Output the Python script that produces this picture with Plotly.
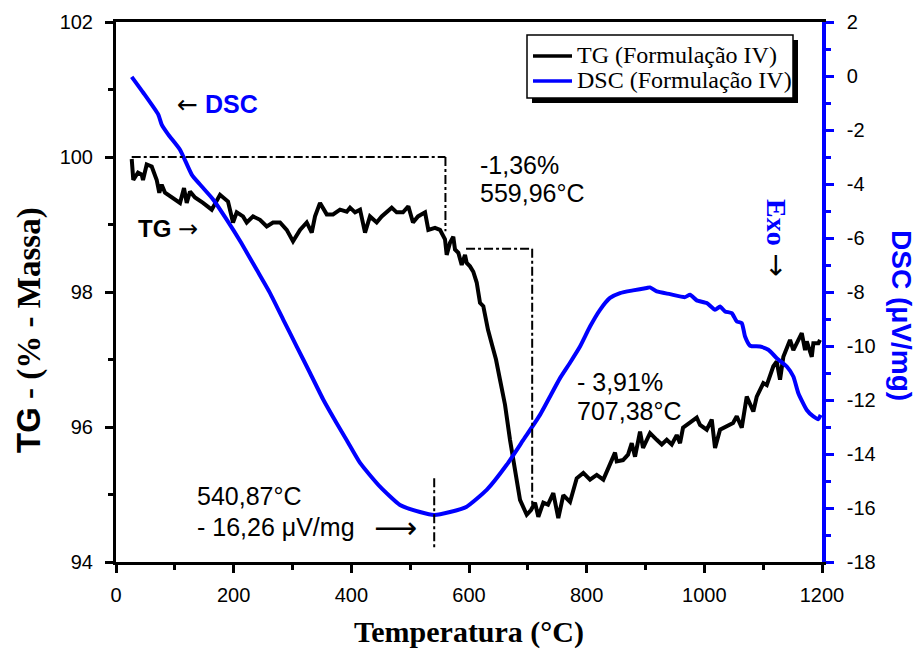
import plotly.graph_objects as go

# ---------------- data ----------------
temp_tg = [26.7, 29.4, 37.4, 43.7, 45.9, 52.2, 60.7, 69.2, 73.6, 77.7, 83.3, 91.8, 103.2, 108.8,
           115.6, 120.2, 125.8, 134.3, 147.9, 162.7, 176.8, 185.3, 190.4, 198.9, 205.2, 215.9,
           222.2, 232.9, 244.8, 256.2, 266.9, 278.8, 290.2, 300.9, 312.8, 324.2, 332.7, 338.3,
           346.8, 358.2, 368.9, 380.8, 392.2, 397.8, 406.3, 414.8, 423.3, 431.7, 443.1, 451.6,
           460.1, 468.6, 477.1, 487.8, 496.9, 504.8, 513.3, 525.3, 530.9, 542.2, 550.7, 559.2,
           562.1, 567.7, 573.3, 576.2, 581.9, 587.6, 593.2, 596.1, 601.7, 607.3, 613.1, 618.7,
           624.3, 632.3, 639.1, 645.9, 652.7, 661.2, 669.7, 675.3, 686.7, 698.1, 705.4, 712.2,
           717.8, 726.3, 734.3, 743.3, 751.8, 760.3, 771.7, 783.1, 794.3, 805.7, 817.1, 828.3,
           839.7, 848.2, 851.1, 861.8, 870.3, 876.6, 882.2, 890.7, 895.8, 907.7, 919.1, 927.6,
           936.1, 944.6, 953.1, 958.7, 963.8, 975.7, 987.1, 992.7, 1004.1, 1012.6, 1018.2,
           1026.7, 1038.1, 1048.8, 1055.1, 1063.6, 1072.1, 1083.3, 1089.1, 1100.3, 1106.1,
           1117.3, 1123.1, 1128.7, 1134.3, 1145.7, 1151.3, 1157.6, 1165.6, 1171.2, 1174.1,
           1182.6, 1185.3, 1193.8, 1196.6]
tg = [99.97, 99.66, 99.77, 99.74, 99.66, 99.89, 99.86, 99.66, 99.47, 99.59, 99.47, 99.42, 99.37,
      99.32, 99.54, 99.32, 99.49, 99.40, 99.32, 99.22, 99.44, 99.37, 99.34, 99.03, 99.18, 99.12,
      99.03, 99.12, 99.07, 98.97, 99.03, 99.03, 98.92, 98.75, 98.92, 99.03, 98.88, 99.12, 99.32,
      99.15, 99.15, 99.22, 99.19, 99.25, 99.18, 99.22, 98.88, 99.12, 99.03, 99.12, 99.18, 99.25,
      99.18, 99.18, 99.27, 99.03, 99.12, 99.18, 98.92, 98.95, 98.92, 98.78, 98.55, 98.73, 98.82,
      98.63, 98.58, 98.40, 98.55, 98.43, 98.38, 98.30, 98.14, 97.84, 97.79, 97.44, 97.22, 97.00,
      96.70, 96.33, 95.81, 95.51, 94.92, 94.70, 94.77, 94.88, 94.67, 94.88, 94.85, 95.02, 94.65,
      94.99, 94.89, 95.24, 95.32, 95.22, 95.29, 95.22, 95.47, 95.62, 95.49, 95.51, 95.59, 95.76,
      95.56, 95.93, 95.69, 95.91, 95.81, 95.74, 95.81, 95.74, 95.88, 95.76, 95.99, 96.06, 96.14,
      96.03, 95.96, 96.11, 95.69, 95.96, 96.01, 96.06, 96.16, 95.99, 96.45, 96.23, 96.45, 96.65,
      96.62, 96.90, 96.97, 96.70, 97.04, 97.29, 97.14, 97.25, 97.39, 97.14, 97.27, 97.04, 97.24,
      97.24, 97.29]

temp_dsc = [26.7, 46.4, 71.9, 77.7, 88.9, 108.8, 128.7, 142.8, 165.4, 188.2, 212.5, 239.2, 261.8,
            284.4, 307.2, 329.8, 352.4, 375.1, 392.7, 414.8, 448.7, 482.7, 516.7, 540.9, 567.7,
            596.1, 630.1, 664.1, 692.3, 720.7, 754.7, 771.7, 788.7, 805.7, 822.7, 839.7, 856.7,
            878.8, 902.1, 907.7, 919.1, 941.7, 967.2, 975.7, 987.1, 1004.1, 1018.2, 1026.7,
            1035.2, 1046.6, 1055.1, 1063.6, 1069.2, 1077.7, 1094.7, 1108.8, 1123.1, 1140.1,
            1151.3, 1159.8, 1174.1, 1185.3, 1193.8, 1197.8]
dsc = [-0.03, -0.62, -1.43, -1.80, -2.17, -2.73, -3.65, -4.02, -4.58, -5.32, -6.17, -7.18, -8.04,
       -9.03, -10.02, -11.00, -11.99, -12.86, -13.51, -14.33, -15.21, -15.89, -16.15, -16.26,
       -16.15, -15.95, -15.33, -14.40, -13.48, -12.55, -11.19, -10.62, -10.02, -9.28, -8.66,
       -8.22, -8.04, -7.94, -7.85, -7.83, -7.98, -8.08, -8.19, -8.10, -8.31, -8.41, -8.66, -8.54,
       -8.72, -8.78, -9.09, -9.15, -9.65, -9.99, -10.02, -10.14, -10.45, -10.76, -11.13, -11.75,
       -12.37, -12.61, -12.71, -12.55]

# axis ticks
x_ticks = [0, 200, 400, 600, 800, 1000, 1200]
tg_ticks = [94, 96, 98, 100, 102]
dsc_ticks = [2, 0, -2, -4, -6, -8, -10, -12, -14, -16, -18]
dsc_tick_labels = ["2", "0", "-2", "-4", "-6", "-8", "-10", "-12", "-14", "-16", "-18"]

# event values marked on the chart
tg_start = 100.0
step1_temp, step1_loss = 559.96, -1.36
step2_temp, step2_loss = 707.38, -3.91
dsc_peak_temp, dsc_peak_val = 540.87, -16.26

x_range = [0, 1200]
tg_range = [94, 102]
dsc_range = [-18, 2]

SANS = "Arial, Liberation Sans, sans-serif"
SERIF = "Times New Roman, Liberation Serif, serif"
ARROW = "DejaVu Sans"

# ---------------- figure ----------------
fig = go.Figure()
fig.add_trace(go.Scatter(x=temp_tg, y=tg, mode="lines", name="TG (Formulação IV)",
                         line=dict(color="black", width=4), yaxis="y"))
fig.add_trace(go.Scatter(x=temp_dsc, y=dsc, mode="lines", name="DSC (Formulação IV)",
                         line=dict(color="#0000ff", width=4, shape="spline", smoothing=0.5),
                         yaxis="y2"))

L, R, T, B = 116, 97, 22, 88
W, H = 919, 650
PW, PH = W - L - R, H - T - B


def px(x):
    return (x - L) / PW


def py(y):
    return (H - B - y) / PH


fig.update_layout(
    width=W, height=H,
    margin=dict(l=L, r=R, t=T, b=B, pad=0),
    plot_bgcolor="white", paper_bgcolor="white",
    showlegend=False,
    xaxis=dict(range=x_range, tickvals=x_ticks, ticks="outside", ticklen=8, tickwidth=2.5,
               tickcolor="black", linecolor="black", linewidth=3, mirror=True,
               showgrid=False, zeroline=False, ticklabelstandoff=5,
               tickfont=dict(family=SANS, size=20, color="black"),
               minor=dict(dtick=100, tick0=0, ticks="outside", ticklen=5, tickwidth=2.5,
                          tickcolor="black", showgrid=False)),
    yaxis=dict(range=tg_range, tickvals=tg_ticks, ticks="outside", ticklen=8, tickwidth=2.5,
               tickcolor="black", linecolor="black", linewidth=3,
               showgrid=False, zeroline=False, ticklabelstandoff=8,
               tickfont=dict(family=SANS, size=20, color="black"),
               minor=dict(dtick=1, tick0=94, ticks="outside", ticklen=5, tickwidth=2.5,
                          tickcolor="black", showgrid=False)),
    yaxis2=dict(range=dsc_range, tickvals=dsc_ticks, ticktext=dsc_tick_labels,
                overlaying="y", side="right",
                ticks="outside", ticklen=8, tickwidth=2.5, tickcolor="#0000ff",
                linecolor="#0000ff", linewidth=3.5, showgrid=False, zeroline=False,
                ticklabelstandoff=9,
                tickfont=dict(family=SANS, size=20, color="black"),
                minor=dict(dtick=1, tick0=0, ticks="outside", ticklen=5, tickwidth=2.5,
                           tickcolor="#0000ff", showgrid=False)),
)

# ---------------- guide lines ----------------
guide = dict(color="black", width=2, dash="dashdot")
fig.add_shape(type="line", xref="x", yref="y", x0=temp_tg[0], x1=step1_temp,
              y0=tg_start, y1=tg_start, line=guide)
fig.add_shape(type="line", xref="x", yref="y", x0=step1_temp, x1=step1_temp,
              y0=tg_start, y1=98.9, line=guide)
fig.add_shape(type="line", xref="x", yref="y", x0=595, x1=step2_temp,
              y0=tg_start + step1_loss, y1=tg_start + step1_loss, line=guide)
fig.add_shape(type="line", xref="x", yref="y", x0=step2_temp, x1=step2_temp,
              y0=tg_start + step1_loss, y1=94.85, line=guide)
fig.add_shape(type="line", xref="x", yref="y2", x0=dsc_peak_temp, x1=dsc_peak_temp,
              y0=-14.9, y1=-17.5, line=guide)

# ---------------- legend (drawn box with shadow) ----------------
fig.add_shape(type="rect", xref="paper", yref="paper", x0=px(532), x1=px(798),
              y0=py(103), y1=py(40), fillcolor="black", line=dict(width=0), layer="above")
fig.add_shape(type="rect", xref="paper", yref="paper", x0=px(527), x1=px(793),
              y0=py(98), y1=py(35), fillcolor="white", line=dict(color="black", width=1.5),
              layer="above")
fig.add_shape(type="line", xref="paper", yref="paper", x0=px(533), x1=px(572),
              y0=py(56), y1=py(56), line=dict(color="black", width=3.5), layer="above")
fig.add_shape(type="line", xref="paper", yref="paper", x0=px(533), x1=px(572),
              y0=py(81), y1=py(81), line=dict(color="#0000ff", width=3.5), layer="above")


def note(x, y, text, size, family=SANS, color="black", xanchor="left", angle=0):
    fig.add_annotation(xref="paper", yref="paper", x=px(x), y=py(y), text=text,
                       showarrow=False, xanchor=xanchor, yanchor="middle", textangle=angle,
                       font=dict(family=family, size=size, color=color))


def arr(sym):
    return f"<span style='font-family:{ARROW};font-weight:normal'>{sym}</span>"


note(575, 55, "TG (Formulação IV)", 24, family=SERIF)
note(575, 80, "DSC (Formulação IV)", 24, family=SERIF)

# ---------------- text annotations ----------------
note(478, 165, "-1,36%", 25)
note(478, 193, "559,96°C", 25)
note(575, 382, "- 3,91%", 25)
note(575, 411, "707,38°C", 25)
note(195, 496, "540,87°C", 25)
note(195, 527, "- 16,26 μV/mg", 25)
note(372, 527, "⟶", 30, family=ARROW)
note(136, 229, "<b>TG</b> " + arr("→"), 24)
note(175, 104, arr("←") + " <span style='color:#0000ff'><b>DSC</b></span>", 25)
note(777, 238, "<span style='color:#0000ff;font-family:Liberation Serif'><b>Exo</b></span> "
     + arr("→"), 28, xanchor="center", angle=90)

# ---------------- axis titles ----------------
note(469, 632, "<b>Temperatura (°C)</b>", 30, family=SERIF, xanchor="center")
note(29, 330, "<span style='font-family:Liberation Sans'><b>TG</b></span><b> - (% - Massa)</b>",
     33, family=SERIF, xanchor="center", angle=-90)
note(901, 315, "<b>DSC (μV/mg)</b>", 28, color="#0000ff", xanchor="center", angle=90)

fig.write_html("out.html", config={"displayModeBar": False},
               post_script="document.body.style.margin='0';")
